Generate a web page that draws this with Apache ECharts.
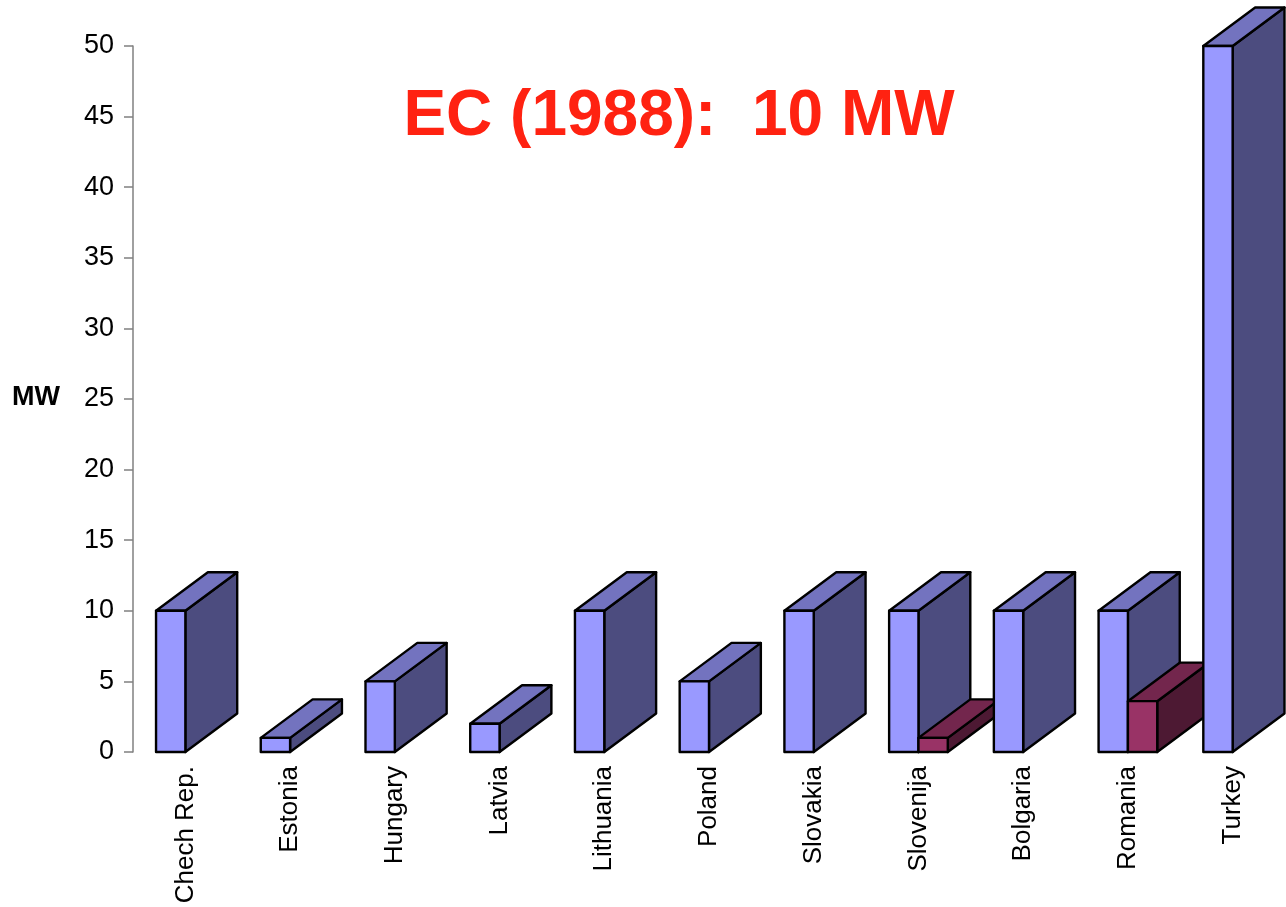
<!DOCTYPE html>
<html>
<head>
<meta charset="utf-8">
<script src="https://cdn.jsdelivr.net/npm/echarts@6/dist/echarts.min.js"></script>
<style>
  html, body { margin: 0; padding: 0; background: #ffffff; }
  #chart { width: 1286px; height: 907px; }
</style>
</head>
<body>
<div id="chart"></div>
<script>
// Installed capacity per country (MW)
const countries = ['Chech Rep.', 'Estonia', 'Hungary', 'Latvia', 'Lithuania', 'Poland',
                   'Slovakia', 'Slovenija', 'Bolgaria', 'Romania', 'Turkey'];
const capacityMain = [10, 1, 5, 2, 10, 5, 10, 10, 10, 10, 50];
const capacitySecond = [0, 0, 0, 0, 0, 0, 0, 1, 0, 3.6, 0];
const yTicks = { min: 0, max: 50, interval: 5 };
const titleText = 'EC (1988):  10 MW';
const axisName = 'MW';

const rows = countries.map((c, i) => [i, capacityMain[i], capacitySecond[i]]);

const palette = {
  main:   { front: '#9999FF', top: '#7373BF', side: '#4C4C7F' },
  second: { front: '#993366', top: '#73264D', side: '#4D1933' }
};

// Draws one 3D box (front, top, side faces) for a value at a category slot
function box(api, idx, value, xOffsetFactor, colors) {
  const base = api.coord([idx, 0]);
  const topPt = api.coord([idx, value]);
  const band = api.size([1, 0])[0];
  const w = band * 0.28;
  const dx = band * 0.495;
  const dy = -38.5;
  const x0 = base[0] + xOffsetFactor * w;
  const x1 = x0 + w;
  const yb = base[1];
  const yt = topPt[1];
  const stroke = { stroke: '#000', lineWidth: 2.4, lineJoin: 'round' };
  return [
    { type: 'polygon', shape: { points: [[x1, yt], [x1 + dx, yt + dy], [x1 + dx, yb + dy], [x1, yb]] },
      style: Object.assign({ fill: colors.side }, stroke) },
    { type: 'polygon', shape: { points: [[x0, yt], [x1, yt], [x1 + dx, yt + dy], [x0 + dx, yt + dy]] },
      style: Object.assign({ fill: colors.top }, stroke) },
    { type: 'polygon', shape: { points: [[x0, yt], [x1, yt], [x1, yb], [x0, yb]] },
      style: Object.assign({ fill: colors.front }, stroke) }
  ];
}

const chart = echarts.init(document.getElementById('chart'), null, { renderer: 'canvas' });
chart.setOption({
  animation: false,
  backgroundColor: '#ffffff',
  title: {
    text: titleText,
    left: 674,
    top: 80,
    textAlign: 'center',
    textStyle: { color: '#FF2211', fontSize: 64, fontWeight: 'bold', fontFamily: 'Liberation Sans, Arial, sans-serif' }
  },
  graphic: [{
    type: 'text',
    left: 12,
    top: 384,
    style: { text: axisName, fontSize: 27, fontWeight: 'bold', fill: '#000', fontFamily: 'Liberation Sans, Arial, sans-serif' }
  }],
  grid: { left: 133, right: 1, top: 46, bottom: 155, containLabel: false },
  xAxis: {
    type: 'category',
    data: countries,
    axisLine: { show: false },
    axisTick: { show: false },
    axisLabel: {
      rotate: 90,
      margin: 14,
      fontSize: 26,
      color: '#000',
      fontFamily: 'Liberation Sans, Arial, sans-serif',
      interval: 0
    }
  },
  yAxis: {
    type: 'value',
    min: yTicks.min,
    max: yTicks.max,
    interval: yTicks.interval,
    splitLine: { show: false },
    axisLine: { show: true, lineStyle: { color: '#808080', width: 1.5 } },
    axisTick: { show: true, length: 9, lineStyle: { color: '#808080', width: 1.5 } },
    axisLabel: { fontSize: 27, color: '#000', margin: 19, fontFamily: 'Liberation Sans, Arial, sans-serif' }
  },
  series: [{
    type: 'custom',
    data: rows,
    encode: { x: 0, y: 1 },
    clip: false,
    renderItem: function (params, api) {
      const idx = api.value(0);
      const a = api.value(1);
      const b = api.value(2);
      let children = [];
      if (a > 0) children = children.concat(box(api, idx, a, -1, palette.main));
      if (b > 0) children = children.concat(box(api, idx, b, 0, palette.second));
      return { type: 'group', children: children };
    }
  }]
});
</script>
</body>
</html>
